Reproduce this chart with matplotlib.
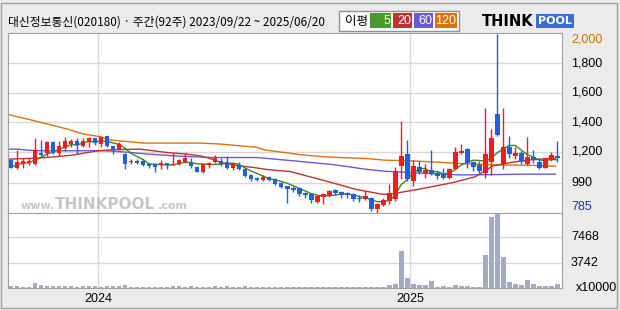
import numpy as np
import pandas as pd
import matplotlib
matplotlib.use('Agg')
import matplotlib.pyplot as plt
from matplotlib.patches import Rectangle

W, H = 620, 310

# weekly candles 2023/09/22 ~ 2025/06/20 (92 weeks)
dates = pd.date_range('2023-09-22', periods=92, freq='7D')
opens = [1143, 1093, 1120, 1125, 1120, 1190, 1195, 1264, 1195, 1225,
         1252, 1270, 1241, 1264, 1291, 1252, 1305, 1236, 1218, 1184,
         1128, 1139, 1139, 1120, 1116, 1111, 1125, 1111, 1116, 1134,
         1127, 1100, 1066, 1111, 1132, 1139, 1132, 1093, 1111, 1082,
         1043, 1025, 1011, 1029, 1014, 990, 968, 956, 952, 922,
         911, 861, 893, 904, 938, 927, 922, 911, 884, 877,
         888, 813, 838, 866, 877, 1104, 1184, 1002, 1098, 1052,
         1077, 1059, 1052, 1020, 1082, 1193, 1220, 1132, 1109, 1059,
         1134, 1453, 1120, 1234, 1173, 1189, 1120, 1166, 1132, 1093,
         1143, 1173]
highs = [1150, 1212, 1161, 1160, 1291, 1280, 1270, 1276, 1276, 1302,
         1287, 1294, 1294, 1298, 1294, 1309, 1309, 1241, 1266, 1193,
         1150, 1150, 1150, 1127, 1127, 1143, 1125, 1195, 1152, 1191,
         1161, 1104, 1122, 1134, 1180, 1157, 1173, 1127, 1132, 1093,
         1048, 1032, 1043, 1033, 1020, 995, 970, 968, 961, 927,
         918, 900, 913, 938, 945, 934, 927, 918, 904, 934,
         893, 850, 888, 980, 1098, 1407, 1282, 1143, 1139, 1120,
         1214, 1070, 1089, 1093, 1229, 1253, 1227, 1139, 1139, 1498,
         1355, 2000, 1498, 1309, 1229, 1207, 1298, 1212, 1161, 1161,
         1200, 1275]
lows = [1090, 1084, 1093, 1110, 1111, 1165, 1168, 1184, 1173, 1207,
        1234, 1184, 1229, 1229, 1248, 1234, 1229, 1184, 1214, 1086,
        1116, 1120, 1104, 1093, 1063, 1086, 1082, 1109, 1111, 1127,
        1093, 1063, 1059, 1093, 1127, 1104, 1082, 1077, 1077, 1029,
        1002, 1002, 1002, 1002, 975, 956, 854, 929, 900, 884,
        854, 854, 847, 895, 904, 888, 888, 866, 859, 872,
        797, 785, 831, 843, 866, 1014, 1005, 968, 1048, 1025,
        1043, 1014, 1014, 1014, 1082, 1184, 1093, 1070, 1054, 1020,
        1043, 1310, 1082, 1161, 1150, 1120, 1111, 1127, 1086, 1089,
        1139, 1134]
closes = [1093, 1134, 1139, 1140, 1212, 1175, 1266, 1195, 1241, 1275,
          1270, 1246, 1270, 1291, 1257, 1302, 1236, 1212, 1250, 1116,
          1132, 1125, 1111, 1106, 1100, 1122, 1109, 1120, 1145, 1155,
          1104, 1066, 1116, 1127, 1157, 1116, 1093, 1122, 1082, 1036,
          1014, 1011, 1029, 1009, 984, 963, 950, 943, 916, 904,
          870, 897, 911, 934, 920, 904, 904, 877, 879, 897,
          809, 847, 875, 922, 1070, 1173, 1014, 1104, 1066, 1075,
          1052, 1036, 1025, 1082, 1200, 1207, 1127, 1100, 1070, 1184,
          1294, 1316, 1234, 1184, 1189, 1134, 1166, 1143, 1093, 1157,
          1177, 1161]
volume = [250, 250, 120, 120, 800, 450, 300, 300, 300, 300,
          300, 150, 300, 300, 300, 120, 300, 300, 300, 450,
          150, 120, 120, 120, 120, 120, 120, 300, 300, 120,
          300, 120, 120, 120, 300, 120, 300, 120, 120, 300,
          120, 120, 120, 120, 120, 120, 120, 120, 120, 120,
          120, 120, 120, 120, 120, 120, 120, 120, 120, 120,
          120, 150, 150, 450, 600, 5540, 1550, 600, 400, 450,
          1050, 150, 300, 150, 450, 300, 300, 150, 150, 4940,
          10520, 10920, 4640, 900, 650, 450, 1200, 600, 300, 300,
          300, 600]  # x10000

# moving averages (week index, price)
ma20_at = [-0.5, 4.5, 7.3, 10.2, 14.5, 17, 21.5, 26, 29.3, 31.5, 33, 35, 38,
           40.5, 43, 46.5, 52, 57.5, 62, 63.5, 67.8, 73.5, 77.3, 80.3, 83.2, 86, 90.7]
ma20 = [1150, 1157, 1166, 1177, 1207, 1214, 1218, 1195, 1184, 1173, 1156, 1127, 1105,
        1093, 1078, 1066, 1007, 945, 911, 915, 945, 990, 1030, 1104, 1127, 1143, 1157]
ma60_at = [-0.5, 1, 3, 5, 15.5, 18.5, 23, 28, 33.7, 41, 44, 47.5, 50, 53, 56,
           59, 62.3, 66.5, 72, 75, 80, 85, 90.7]
ma60 = [1218, 1218, 1210, 1207, 1207, 1200, 1184, 1170, 1161, 1161, 1150, 1137, 1127, 1116, 1100,
        1082, 1068, 1059, 1048, 1043, 1045, 1048, 1048]
ma120_at = [-0.5, 3.7, 9.3, 12, 14.8, 16.5, 22, 31.5, 35, 38, 41, 42.3, 45.5, 48.2,
            51.5, 54.8, 59, 62.3, 66.5, 70, 75, 80, 86, 90.7]
ma120 = [1453, 1412, 1355, 1321, 1302, 1280, 1259, 1259, 1252, 1241, 1230, 1212, 1195, 1180,
         1168, 1161, 1155, 1143, 1139, 1132, 1120, 1111, 1109, 1102]

price_ticks = [990, 1200, 1400, 1600, 1800]
price_labels = ['990', '1,200', '1,400', '1,600', '1,800']
vol_ticks = [3742, 7468]
ma_names = ['5', '20', '60', '120']
ma_colors = ['#4a9a2a', '#c0322e', '#6a5ad8', '#dd7208']

UP, DOWN = '#f21c1c', '#1f5fe0'


def fx(x):
    return x / W


def fy(y):
    return 1 - y / H


def rect(fig, x0, y0, x1, y1, **kw):
    fig.add_artist(Rectangle((fx(x0), fy(y1)), (x1 - x0) / W, (y1 - y0) / H,
                             transform=fig.transFigure, **kw))


o = np.array(opens, float)
c = np.array(closes, float)
x = np.arange(len(o))
up = c >= o
cols = np.where(up, UP, DOWN)
ma5 = pd.Series(c).rolling(5, min_periods=1).mean()

fig = plt.figure(figsize=(W / 100, H / 100), dpi=100, facecolor='#ebebeb')
rect(fig, 1, 3, 617, 308, fill=False, edgecolor='#a0a0a0', lw=1)

ax = fig.add_axes([fx(8), fy(213), 554 / W, 180 / H])
axv = fig.add_axes([fx(8), fy(288), 554 / W, 75 / H])

# year boundaries
years = dates.year
ybreak = [i + 0.5 for i in range(len(x) - 1) if years[i + 1] != years[i]]
ylabels = [str(years[int(b + 0.5)]) for b in ybreak]

for a in (ax, axv):
    a.set_facecolor('white')
    for s in a.spines.values():
        s.set_color('#a0a0a0')
    a.set_xlim(-0.5, 91.8)
    a.set_xticks(ybreak)
    a.tick_params(length=0, labelleft=False, labelright=False, labelbottom=False)
    a.grid(True, color='#d8d8d8', lw=1)
    a.set_axisbelow(True)

# price panel
ax.set_ylim(785, 2005)
ax.set_yticks(price_ticks)
ax.plot(ma120_at, ma120, color=ma_colors[3], lw=1.0, zorder=2)
ax.plot(ma60_at, ma60, color=ma_colors[2], lw=1.0, zorder=2)
ax.plot(ma20_at, ma20, color=ma_colors[1], lw=1.0, zorder=2)
ax.plot(x, ma5, color='#3a8a1a', lw=1, zorder=2)
ax.vlines(x, lows, highs, colors=cols, lw=1, zorder=3)
ax.bar(x, np.maximum(np.abs(c - o), 7), bottom=np.minimum(o, c), width=0.8,
       color=cols, lw=0, zorder=4)

tr = ax.get_yaxis_transform()
lx = 1 + 9 / 554
for v, t in zip(price_ticks, price_labels):
    ax.text(lx, v, t, transform=tr, va='center', ha='left', fontsize=9,
            family='Liberation Sans', clip_on=False)
ax.text(lx, 2005, '2,000', transform=tr, va='top', ha='left', fontsize=9,
        family='Liberation Sans', color='#d07000', clip_on=False)
ax.text(lx, 785, '785', transform=tr, va='bottom', ha='left', fontsize=9,
        family='Liberation Sans', color='#1a2ad0', clip_on=False)

# watermark
wm = '#c6c6c6'
ax.text(47 / 554, 4 / 180, 'www.', transform=ax.transAxes, fontsize=8,
        fontweight='bold', color=wm, zorder=1, ha='right')
ax.text(47 / 554, 4 / 180, 'THINKPOOL', transform=ax.transAxes, fontsize=11,
        fontweight='bold', color=wm, zorder=1, ha='left')
ax.text(150 / 554, 4 / 180, '.com', transform=ax.transAxes, fontsize=8,
        fontweight='bold', color=wm, zorder=1, ha='left')

# volume panel
axv.set_ylim(0, 11080)
axv.set_yticks(vol_ticks)
axv.bar(x, volume, width=0.8, color='#a3abc2', lw=0, zorder=3)
vtr = axv.get_yaxis_transform()
for v in vol_ticks:
    axv.text(lx, v, str(v), transform=vtr, va='center', ha='left', fontsize=9,
             family='Liberation Sans', clip_on=False)
axv.text(1 + 14 / 554, 0, 'x10000', transform=vtr, va='center', ha='left',
         fontsize=9, family='Liberation Sans', clip_on=False)
for b, t in zip(ybreak, ylabels):
    axv.text(b, -0.15, t, transform=axv.get_xaxis_transform(), ha='center',
             va='center', fontsize=9, family='Liberation Sans', clip_on=False)

# title
fig.text(fx(8), fy(22), '대신정보통신(020180) · 주간(92주) 2023/09/22 ~ 2025/06/20',
         fontsize=8.5, va='center', ha='left',
         family=['Noto Sans CJK KR', 'DejaVu Sans'])

# moving average legend
rect(fig, 339, 11, 459, 31, facecolor='white', edgecolor='#909090', lw=1)
fig.text(fx(345), fy(21), '이평', fontsize=9, va='center', ha='left',
         family=['Noto Sans CJK KR', 'DejaVu Sans'])
boxes = [(370, 391), (393, 412), (414, 433), (435, 457)]
for (b0, b1), name, col in zip(boxes, ma_names, ma_colors):
    rect(fig, b0, 13, b1, 28, facecolor=col, edgecolor='none')
    fig.text(fx(b1 - 1), fy(20.5), name, fontsize=9, color='white', va='center',
             ha='right', family='Liberation Sans')

# logo
fig.text(fx(482), fy(21), 'THINK', fontsize=10.5, fontweight='heavy', color='black',
         va='center', ha='left')
fig.text(fx(538), fy(21), 'POOL', fontsize=8, fontweight='bold', color='white',
         va='center', ha='left',
         bbox=dict(boxstyle='square,pad=0.15', facecolor='#3a6fd8', edgecolor='none'))

fig.savefig('out.png', dpi=100, facecolor=fig.get_facecolor())
